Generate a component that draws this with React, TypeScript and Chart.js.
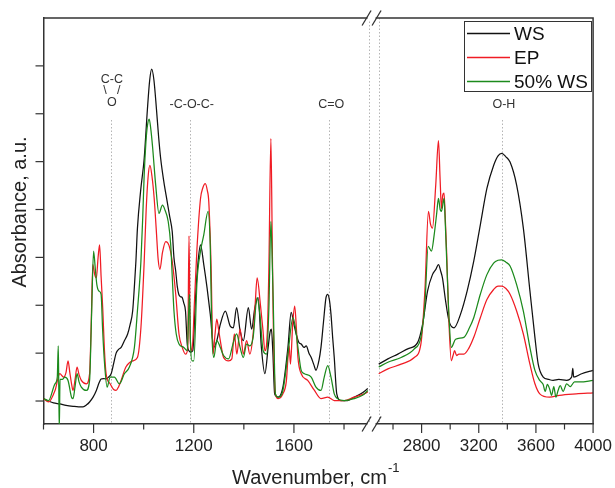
import React, { useEffect, useRef } from 'react';
import { Chart, registerables } from 'chart.js';

Chart.register(...registerables);

// ---------- data ----------
const seriesNames = ['WS', 'EP', '50% WS'];
const seriesColors = ['#111111', '#f01c24', '#1c8a1c'];

// black, WS — fingerprint region (600–1910 cm-1)
const wsLow: number[][] = [
  [600, 0.05], [620, 0.0], [640, -0.04], [665, -0.06], [690, -0.09], [718, -0.11], [740, -0.12], [758, -0.12],
  [772, -0.08], [784, -0.02], [798, 0.08], [811, 0.22], [822, 0.38], [830, 0.46], [840, 0.47], [850, 0.46],
  [860, 0.5], [870, 0.57], [880, 0.78], [890, 1.0], [900, 1.08], [910, 1.12], [922, 1.25], [936, 1.4],
  [946, 1.6], [956, 1.88], [963, 2.4], [969, 2.92], [975, 3.6], [988, 4.4], [1002, 5.06], [1015, 6.1],
  [1024, 6.7], [1032, 6.93], [1041, 6.7], [1051, 6.1], [1060, 5.5], [1068, 5.06], [1080, 4.6], [1094, 4.16],
  [1104, 3.85], [1114, 3.54], [1121, 2.99], [1128, 2.71], [1134, 2.4], [1140, 2.23], [1147, 2.18], [1154, 2.16],
  [1160, 2.05], [1167, 1.88], [1174, 1.19], [1181, 1.05], [1187, 1.02], [1196, 1.05], [1207, 2.16], [1217, 2.9],
  [1227, 3.26], [1240, 2.85], [1253, 2.37], [1266, 1.81], [1280, 1.12], [1292, 1.26], [1306, 1.6], [1326, 1.88],
  [1345, 1.57], [1358, 1.53], [1371, 1.95], [1385, 1.47], [1398, 1.26], [1418, 1.95], [1431, 1.5], [1444, 1.95],
  [1457, 2.16], [1470, 1.12], [1484, 0.57], [1497, 1.12], [1505, 1.45], [1510, 1.5], [1516, 1.0], [1523, 0.15],
  [1537, 0.08], [1556, 0.29], [1576, 1.12], [1589, 1.85], [1600, 1.6], [1609, 1.4], [1620, 1.22], [1629, 1.19],
  [1640, 1.12], [1649, 1.15], [1660, 1.0], [1669, 0.91], [1680, 0.75], [1688, 0.64], [1700, 0.85], [1708, 1.12],
  [1718, 1.65], [1728, 2.16], [1735, 2.23], [1742, 2.1], [1748, 1.81], [1755, 1.3], [1761, 0.91], [1771, 0.15],
  [1787, 0.01], [1814, 0.01], [1840, 0.08], [1867, 0.15], [1895, 0.26],
];
// red, EP — fingerprint region
const epLow: number[][] = [
  [600, 0.05], [620, -0.02], [646, 0.22], [665, 0.57], [680, 0.5], [690, 0.6], [698, 0.84], [705, 0.6],
  [712, 0.36], [718, 0.22], [726, 0.45], [734, 0.71], [742, 0.55], [751, 0.43], [771, 0.36], [784, 0.57],
  [790, 1.5], [797, 2.85], [804, 2.65], [811, 2.57], [818, 3.0], [824, 3.26], [830, 2.6], [837, 1.88],
  [843, 1.1], [850, 0.57], [866, 0.36], [880, 0.24], [890, 0.22], [900, 0.3], [910, 0.43], [929, 0.71],
  [956, 0.84], [975, 0.91], [989, 1.53], [1002, 2.9], [1010, 4.0], [1018, 4.7], [1025, 4.92], [1033, 4.7],
  [1042, 4.23], [1050, 3.6], [1058, 2.95], [1065, 2.75], [1075, 3.1], [1088, 3.33], [1101, 3.25], [1114, 2.92],
  [1128, 2.23], [1141, 1.4], [1154, 1.12], [1167, 0.98], [1176, 1.1], [1181, 3.45], [1186, 1.3], [1193, 1.05],
  [1203, 2.1], [1213, 3.2], [1227, 4.23], [1236, 4.45], [1246, 4.54], [1254, 4.4], [1260, 4.16], [1269, 2.85],
  [1277, 0.98], [1285, 1.4], [1292, 1.71], [1299, 1.5], [1306, 1.26], [1319, 0.91], [1339, 0.84], [1352, 0.88],
  [1362, 1.4], [1372, 0.98], [1385, 1.5], [1398, 0.98], [1411, 1.26], [1424, 0.98], [1437, 1.4], [1445, 2.0],
  [1453, 2.57], [1466, 2.02], [1476, 1.5], [1484, 1.05], [1494, 1.47], [1500, 2.8], [1508, 5.48], [1513, 3.5],
  [1517, 1.81], [1526, 0.15], [1537, 0.05], [1556, 0.15], [1570, 0.43], [1576, 0.9], [1581, 1.15], [1586, 0.77],
  [1595, 1.6], [1603, 1.98], [1610, 1.5], [1616, 0.91], [1629, 0.57], [1655, 0.43], [1682, 0.22], [1708, 0.05],
  [1735, 0.08], [1761, 0.01], [1801, 0.01], [1840, 0.08], [1880, 0.15], [1895, 0.19],
];
// green, 50% WS — fingerprint region
const mixLow: number[][] = [
  [600, 0.05], [620, 0.01], [646, 0.36], [655, 0.5], [659, 1.15], [661, 0.3], [663, -0.6], [666, 0.45],
  [675, 0.45], [685, 0.5], [698, 0.43], [712, 0.08], [718, 0.05], [726, 0.3], [734, 0.57], [742, 0.4],
  [751, 0.29], [771, 0.22], [784, 0.43], [792, 1.8], [800, 3.13], [807, 2.75], [813, 2.43], [821, 2.3],
  [830, 2.23], [836, 1.5], [843, 0.84], [854, 0.29], [866, 0.5], [883, 0.5], [903, 0.36], [923, 0.57],
  [943, 0.71], [963, 1.12], [975, 1.88], [989, 2.92], [996, 3.8], [1002, 4.72], [1009, 5.41], [1015, 5.75],
  [1022, 5.89], [1028, 5.7], [1035, 5.34], [1048, 4.51], [1061, 3.92], [1075, 4.09], [1085, 3.99], [1098, 3.75],
  [1108, 3.26], [1115, 2.5], [1121, 1.88], [1130, 1.4], [1141, 1.19], [1160, 1.12], [1174, 1.05], [1180, 1.9],
  [1183, 2.23], [1187, 1.2], [1193, 0.84], [1200, 0.84], [1213, 2.5], [1227, 3.13], [1240, 3.47], [1257, 3.96],
  [1266, 3.2], [1272, 1.47], [1280, 0.91], [1292, 1.26], [1306, 1.12], [1319, 0.95], [1339, 0.88], [1358, 1.22],
  [1371, 1.4], [1385, 1.12], [1398, 0.91], [1411, 1.19], [1424, 1.15], [1437, 1.33], [1453, 2.16], [1464, 1.81],
  [1477, 1.05], [1491, 0.98], [1500, 1.95], [1508, 3.75], [1512, 3.2], [1517, 2.16], [1526, 0.15], [1537, 0.08],
  [1556, 0.22], [1576, 0.98], [1596, 1.74], [1606, 1.53], [1616, 1.12], [1629, 0.64], [1642, 0.57], [1669, 0.5],
  [1688, 0.29], [1708, 0.22], [1721, 0.5], [1735, 0.74], [1748, 0.5], [1761, 0.15], [1774, 0.05], [1801, 0.01],
  [1840, 0.05], [1874, 0.12], [1895, 0.22],
];
// high-wavenumber region (2450–4000 cm-1)
const wsHigh: number[][] = [
  [2500, 0.77], [2564, 0.88], [2634, 0.98], [2703, 1.09], [2772, 1.22], [2807, 1.6], [2842, 2.3], [2876, 2.64],
  [2900, 2.75], [2918, 2.85], [2935, 2.7], [2946, 2.57], [2968, 2.09], [2992, 1.67], [3027, 1.53], [3072, 1.81],
  [3119, 2.3], [3165, 2.92], [3211, 3.68], [3257, 4.44], [3304, 4.92], [3335, 5.12], [3361, 5.17], [3390, 5.1],
  [3419, 4.99], [3465, 4.51], [3512, 3.61], [3558, 2.3], [3593, 1.33], [3616, 0.77], [3651, 0.5], [3690, 0.45],
  [3720, 0.43], [3760, 0.45], [3815, 0.43], [3850, 0.5], [3858, 0.68], [3864, 0.5], [3920, 0.57], [4000, 0.64],
];
const epHigh: number[][] = [
  [2500, 0.57], [2564, 0.67], [2657, 0.77], [2749, 0.91], [2795, 1.19], [2823, 2.3], [2848, 3.96], [2862, 3.7],
  [2876, 3.61], [2899, 4.51], [2918, 5.44], [2930, 4.6], [2939, 4.02], [2948, 4.3], [2957, 4.34], [2966, 3.8],
  [2975, 3.13], [2992, 1.6], [3008, 0.84], [3020, 0.95], [3031, 1.05], [3045, 0.95], [3061, 0.98], [3096, 0.98],
  [3130, 1.1], [3165, 1.33], [3211, 1.74], [3257, 2.12], [3304, 2.33], [3335, 2.4], [3361, 2.4], [3390, 2.35],
  [3419, 2.23], [3465, 1.88], [3512, 1.4], [3558, 0.77], [3593, 0.36], [3627, 0.15], [3696, 0.08], [3765, 0.12],
  [3882, 0.15], [4000, 0.17],
];
const mixHigh: number[][] = [
  [2500, 0.71], [2564, 0.81], [2657, 0.91], [2749, 1.09], [2795, 1.33], [2823, 2.02], [2846, 3.23], [2869, 3.13],
  [2888, 3.47], [2905, 3.9], [2918, 4.23], [2930, 4.0], [2939, 3.96], [2957, 4.23], [2966, 3.7], [2975, 2.99],
  [2992, 1.74], [3008, 1.12], [3038, 1.29], [3096, 1.33], [3130, 1.5], [3165, 1.74], [3211, 2.23], [3257, 2.64],
  [3304, 2.88], [3335, 2.94], [3361, 2.95], [3390, 2.9], [3419, 2.82], [3465, 2.43], [3512, 1.88], [3558, 1.12],
  [3593, 0.64], [3627, 0.43], [3650, 0.35], [3665, 0.2], [3680, 0.35], [3696, 0.25], [3710, 0.12], [3725, 0.3],
  [3740, 0.08], [3755, 0.22], [3770, 0.32], [3790, 0.2], [3815, 0.36], [3840, 0.3], [3870, 0.4], [3908, 0.4],
  [4000, 0.43],
];

const lowRange = [600, 1910];
const highRange = [2450, 4000];
const lowTicks = [600, 800, 1000, 1200, 1400, 1600, 1800];
const highTicks = [2600, 2800, 3000, 3200, 3400, 3600, 3800, 4000];
const yTicks = [0, 1, 2, 3, 4, 5, 6, 7];
const yRange = [-0.48, 8.0];
const bandNames = [['C-C', '\\   /', 'O'], ['-C-O-C-'], ['C=O'], ['O-H']];
const bandPositions = [869, 1184, 1741, 3362];
const segmentEdges = [1900, 2500];

const FONT = "'Liberation Sans', Arial, sans-serif";

const toXY = (arr: number[][]) => arr.map(([x, y]) => ({ x, y }));

const overlayPlugin = {
  id: 'overlay',
  beforeDatasetsDraw(chart: any) {
    const { ctx, chartArea: a, scales } = chart;
    const pick = (v: number) => (v > 2000 ? scales.xHigh : scales.xLow);
    ctx.save();
    ctx.strokeStyle = '#b5b5b5';
    ctx.lineWidth = 1;
    ctx.setLineDash([1.5, 2]);
    bandPositions.forEach((v) => {
      const px = Math.round(pick(v).getPixelForValue(v)) + 0.5;
      ctx.beginPath();
      ctx.moveTo(px, 120);
      ctx.lineTo(px, a.bottom);
      ctx.stroke();
    });
    segmentEdges.forEach((v) => {
      const px = Math.round(pick(v).getPixelForValue(v)) + 0.5;
      ctx.beginPath();
      ctx.moveTo(px, a.top);
      ctx.lineTo(px, a.bottom);
      ctx.stroke();
    });
    ctx.restore();
  },
  afterDraw(chart: any) {
    const { ctx, chartArea: a, scales } = chart;
    const lo = scales.xLow;
    const hi = scales.xHigh;
    const ys = scales.y;
    ctx.save();
    ctx.strokeStyle = '#333';
    ctx.lineWidth = 1.5;
    ctx.setLineDash([]);
    ctx.beginPath();
    ctx.moveTo(a.left, a.top);
    ctx.lineTo(a.right, a.top);
    ctx.lineTo(a.right, a.bottom);
    ctx.stroke();

    // tick marks
    ctx.lineWidth = 1.2;
    const xTick = (sc: any, v: number) => {
      const px = sc.getPixelForValue(v);
      const len = v % 400 === 0 ? 9 : 5.5;
      ctx.beginPath();
      ctx.moveTo(px, a.bottom);
      ctx.lineTo(px, a.bottom + len);
      ctx.stroke();
    };
    lowTicks.forEach((v) => xTick(lo, v));
    highTicks.forEach((v) => xTick(hi, v));
    yTicks.forEach((v) => {
      const py = ys.getPixelForValue(v);
      ctx.beginPath();
      ctx.moveTo(a.left - 8, py);
      ctx.lineTo(a.left, py);
      ctx.stroke();
    });

    // axis break marks
    const bx = lo.right;
    [a.top, a.bottom].forEach((yy) => {
      ctx.fillStyle = '#fff';
      ctx.fillRect(bx - 4, yy - 2, 8, 4);
      ctx.strokeStyle = '#333';
      ctx.lineWidth = 1.3;
      [bx - 5, bx + 5].forEach((sx) => {
        ctx.beginPath();
        ctx.moveTo(sx - 4.5, yy + 7.5);
        ctx.lineTo(sx + 4.5, yy - 7.5);
        ctx.stroke();
      });
    });

    // band annotations
    ctx.fillStyle = '#333';
    ctx.font = `12.5px ${FONT}`;
    ctx.textAlign = 'center';
    ctx.textBaseline = 'middle';
    bandNames.forEach((lines, i) => {
      const v = bandPositions[i];
      const sc = v > 2000 ? hi : lo;
      const px = sc.getPixelForValue(v);
      if (lines.length === 3) {
        ctx.fillText(lines[0], px + 1, 80);
        ctx.fillText(lines[1], px + 1, 91);
        ctx.fillText(lines[2], px + 1, 103);
      } else {
        ctx.fillText(lines[0], px + 2, 105);
      }
    });

    // legend
    ctx.strokeStyle = '#333';
    ctx.lineWidth = 1;
    ctx.strokeRect(464.5, 21.5, 127, 70);
    ctx.font = `19px ${FONT}`;
    ctx.textAlign = 'left';
    ctx.textBaseline = 'middle';
    seriesNames.forEach((name, i) => {
      const yy = 33.5 + i * 24;
      ctx.strokeStyle = seriesColors[i];
      ctx.lineWidth = 1.3;
      ctx.beginPath();
      ctx.moveTo(467, yy);
      ctx.lineTo(510, yy);
      ctx.stroke();
      ctx.fillStyle = '#111';
      ctx.fillText(name, 514, yy + 1);
    });

    // axis titles
    ctx.fillStyle = '#222';
    ctx.textBaseline = 'alphabetic';
    ctx.font = `20px ${FONT}`;
    const main = 'Wavenumber, cm';
    const w1 = ctx.measureText(main).width;
    ctx.font = `13px ${FONT}`;
    const sup = '-1';
    const w2 = ctx.measureText(sup).width;
    const cx = (a.left + a.right) / 2 - 3;
    const x0 = cx - (w1 + w2) / 2;
    ctx.font = `20px ${FONT}`;
    ctx.textAlign = 'left';
    ctx.fillText(main, x0, 484);
    ctx.font = `13px ${FONT}`;
    ctx.fillText(sup, x0 + w1 + 1, 472);

    ctx.save();
    ctx.translate(26, 212);
    ctx.rotate(-Math.PI / 2);
    ctx.font = `20px ${FONT}`;
    ctx.textAlign = 'center';
    ctx.fillText('Absorbance, a.u.', 0, 0);
    ctx.restore();

    ctx.restore();
  },
};

export default function App() {
  const ref = useRef<HTMLCanvasElement | null>(null);
  useEffect(() => {
    document.body.style.margin = '0';
    if (!ref.current) return;
    const lows = [wsLow, epLow, mixLow];
    const highs = [wsHigh, epHigh, mixHigh];
    const datasets: any[] = [];
    seriesNames.forEach((name, i) => {
      const common = {
        label: name,
        borderColor: seriesColors[i],
        borderWidth: 1.25,
        pointRadius: 0,
        fill: false,
        cubicInterpolationMode: 'monotone',
        order: 2 - i,
        yAxisID: 'y',
      };
      datasets.push({ ...common, data: toXY(lows[i]), xAxisID: 'xLow' });
      datasets.push({ ...common, data: toXY(highs[i]), xAxisID: 'xHigh' });
    });
    const tickFont = { family: FONT, size: 17 };
    const xCommon = (ticksList: number[]) => ({
      type: 'linear',
      position: 'bottom',
      stack: 'wn',
      afterBuildTicks: (s: any) => {
        s.ticks = ticksList.map((v) => ({ value: v }));
      },
      ticks: {
        autoSkip: false,
        maxRotation: 0,
        minRotation: 0,
        padding: 3,
        color: '#222',
        font: tickFont,
        callback: (v: any) => (Number(v) % 400 === 0 ? String(v) : ''),
      },
      grid: { display: false, drawTicks: true, tickLength: 9 },
      border: { display: true, color: '#333', width: 1.5 },
    });
    const chart = new Chart(ref.current, {
      type: 'line',
      data: { datasets },
      plugins: [overlayPlugin],
      options: {
        animation: false,
        responsive: false,
        devicePixelRatio: 1,
        layout: { padding: { left: 35.5, right: 18.5, top: 18, bottom: 28.6 } },
        plugins: { legend: { display: false }, tooltip: { enabled: false } },
        scales: {
          xLow: { ...xCommon(lowTicks), min: lowRange[0], max: lowRange[1], stackWeight: 331 },
          xHigh: { ...xCommon(highTicks), min: highRange[0], max: highRange[1], stackWeight: 223.5 },
          y: {
            type: 'linear',
            position: 'left',
            min: yRange[0],
            max: yRange[1],
            afterBuildTicks: (s: any) => {
              s.ticks = yTicks.map((v) => ({ value: v }));
            },
            ticks: { display: false },
            grid: { display: false, drawTicks: true, tickLength: 8 },
            border: { display: true, color: '#333', width: 1.5 },
          },
        },
      } as any,
    });
    return () => chart.destroy();
  }, []);
  return (
    <div style={{ width: 615, height: 488, position: 'relative', background: '#fff' }}>
      <canvas ref={ref} width={615} height={488} />
    </div>
  );
}
